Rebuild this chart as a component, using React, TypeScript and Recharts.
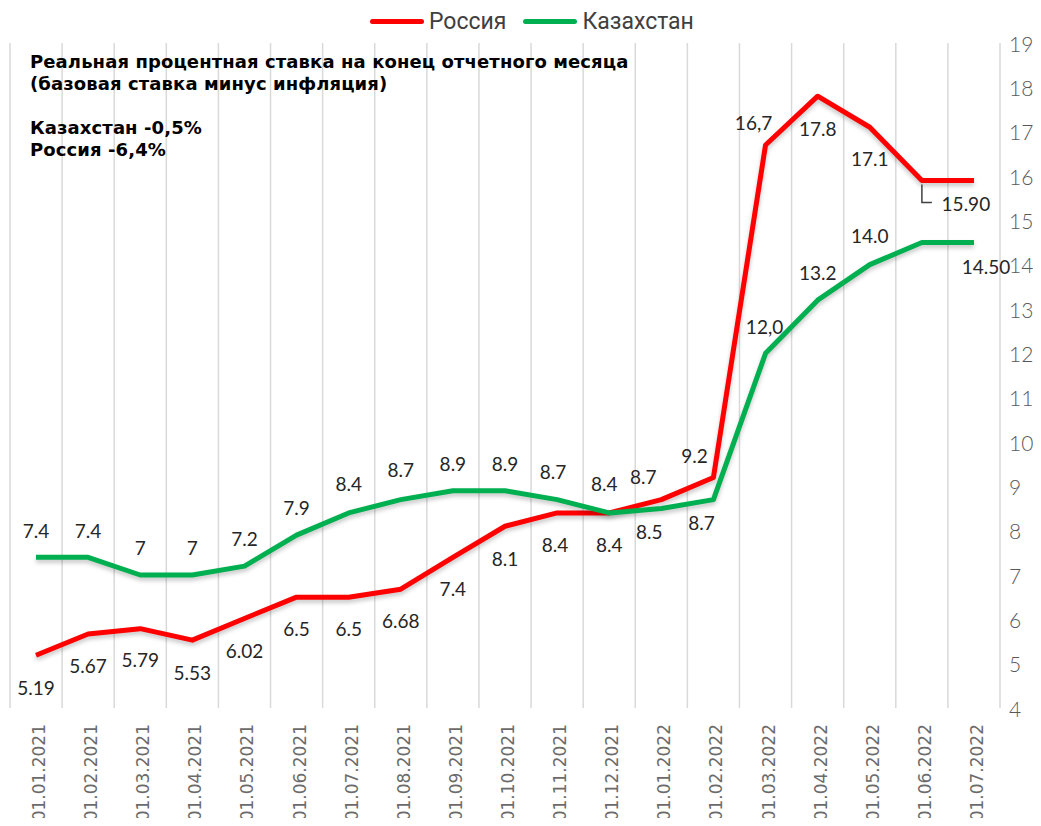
import React from "react";
import {
  LineChart,
  Line,
  XAxis,
  YAxis,
  CartesianGrid,
  Legend,
} from "recharts";

const categories = [
  "01.01.2021",
  "01.02.2021",
  "01.03.2021",
  "01.04.2021",
  "01.05.2021",
  "01.06.2021",
  "01.07.2021",
  "01.08.2021",
  "01.09.2021",
  "01.10.2021",
  "01.11.2021",
  "01.12.2021",
  "01.01.2022",
  "01.02.2022",
  "01.03.2022",
  "01.04.2022",
  "01.05.2022",
  "01.06.2022",
  "01.07.2022",
];

const russia = [5.19, 5.67, 5.79, 5.53, 6.02, 6.5, 6.5, 6.68, 7.4, 8.1, 8.4, 8.4, 8.7, 9.2, 16.7, 17.8, 17.1, 15.9, 15.9];
const kazakhstan = [7.4, 7.4, 7.0, 7.0, 7.2, 7.9, 8.4, 8.7, 8.9, 8.9, 8.7, 8.4, 8.5, 8.7, 12.0, 13.2, 14.0, 14.5, 14.5];

const russiaLabels = ["5.19", "5.67", "5.79", "5.53", "6.02", "6.5", "6.5", "6.68", "7.4", "8.1", "8.4", "8.4", "8.7", "9.2", "16,7", "17.8", "17.1", "15.90", ""];
const kazakhstanLabels = ["7.4", "7.4", "7", "7", "7.2", "7.9", "8.4", "8.7", "8.9", "8.9", "8.7", "8.4", "8.5", "8.7", "12,0", "13.2", "14.0", "", "14.50"];

const yTicks = [4, 5, 6, 7, 8, 9, 10, 11, 12, 13, 14, 15, 16, 17, 18, 19];

const noteLines = [
  "Реальная процентная ставка на конец отчетного месяца",
  "(базовая ставка минус инфляция)",
  "",
  "Казахстан -0,5%",
  "Россия -6,4%",
];

const RED = "#FF0000";
const GREEN = "#00B050";

// label placement (dx, dy of the text centre from the point)
const russiaPlace: [number, number][] = [
  [0, 32], [0, 32], [0, 31], [0, 32], [0, 32], [0, 31], [0, 31], [0, 31], [0, 31], [0, 32],
  [-2, 32], [0, 32], [-18, -23], [-19, -22], [-12, -22], [0, 32], [0, 31], [44, 23], [0, 0],
];
const kazPlace: [number, number][] = [
  [0, -27], [0, -27], [0, -28], [0, -28], [0, -28], [0, -28], [0, -29], [0, -30], [0, -27], [0, -27],
  [-4, -28], [-5, -29], [-12, 23], [-12, 23], [-1, -27], [0, -28], [0, -29], [0, 0], [12, 24],
];

const data = categories.map((date, i) => ({
  date,
  russia: russia[i],
  kazakhstan: kazakhstan[i],
}));

const makeLabel = (texts: string[], place: [number, number][], leader?: number) => (p: any) => {
  const i = p.index;
  const t = texts[i];
  if (!t) return null;
  const [dx, dy] = place[i];
  return (
    <g key={`l-${i}`}>
      {leader === i && (
        <path
          d={`M${p.x},${p.y + 4} V${p.y + 22} H${p.x + 10}`}
          stroke="#404040"
          strokeWidth={1.5}
          fill="none"
        />
      )}
      <text
        x={p.x + dx}
        y={p.y + dy}
        textAnchor="middle"
        dominantBaseline="central"
        fontFamily="Lato, sans-serif"
        fontSize={19}
        fill="#262626"
      >
        {t}
      </text>
    </g>
  );
};

const XTick = (props: any) => {
  const { x, y, payload } = props;
  return (
    <text
      x={x + 3}
      y={y + 8}
      transform={`rotate(-90, ${x + 3}, ${y + 8})`}
      textAnchor="end"
      dominantBaseline="central"
      fontFamily="'DejaVu Sans', sans-serif"
      fontSize={17}
      fill="#6b6b6b"
    >
      {payload.value}
    </text>
  );
};

const YTick = (props: any) => {
  const { x, y, payload } = props;
  return (
    <text
      x={x + 9}
      y={y}
      textAnchor="start"
      dominantBaseline="central"
      fontFamily="Lato, sans-serif"
      fontWeight={300}
      fontSize={21}
      fill="#595959"
    >
      {payload.value}
    </text>
  );
};

const LegendBox = () => (
  <div
    style={{
      height: 43,
      display: "flex",
      alignItems: "center",
      paddingLeft: 370,
      boxSizing: "border-box",
      fontFamily: "Roboto, sans-serif",
      fontSize: 23,
      color: "#404040",
    }}
  >
    {[
      { name: "Россия", color: RED },
      { name: "Казахстан", color: GREEN },
    ].map((it) => (
      <span key={it.name} style={{ display: "flex", alignItems: "center", marginRight: 17 }}>
        <span
          style={{
            display: "inline-block",
            width: 54,
            height: 5,
            borderRadius: 3,
            background: it.color,
            marginRight: 5,
          }}
        />
        {it.name}
      </span>
    ))}
  </div>
);

export default function App() {
  return (
    <div style={{ position: "relative", margin: -8, width: 1041, height: 826, background: "#fff" }}>
      <style>{`.recharts-line-curve { filter: drop-shadow(0px 3px 2px rgba(0,0,0,0.22)); }`}</style>
      <LineChart width={1041} height={826} data={data} margin={{ top: 0, right: 0, bottom: 0, left: 10 }}>
        <Legend
          verticalAlign="top"
          align="left"
          content={() => <LegendBox />}
          wrapperStyle={{ top: 0, left: 0, width: 1041, height: 43 }}
        />
        <CartesianGrid
          horizontal={false}
          stroke="#d9d9d9"
          strokeWidth={1.5}
          verticalCoordinatesGenerator={({ offset }: any) =>
            Array.from({ length: categories.length + 1 }, (_, i) => offset.left + (offset.width * i) / categories.length)
          }
        />
        <XAxis
          dataKey="date"
          interval={0}
          height={118}
          padding={{ left: 26, right: 26 }}
          axisLine={false}
          tickLine={false}
          tick={<XTick />}
        />
        <YAxis
          orientation="right"
          domain={[4, 19]}
          ticks={yTicks}
          width={41}
          axisLine={false}
          tickLine={false}
          tickSize={0}
          tickMargin={0}
          tick={<YTick />}
          interval={0}
        />
        <Line
          type="linear"
          dataKey="russia"
          name="Россия"
          stroke={RED}
          strokeWidth={5}
          strokeLinejoin="round"
          dot={false}
          isAnimationActive={false}
          label={makeLabel(russiaLabels, russiaPlace, 17)}
        />
        <Line
          type="linear"
          dataKey="kazakhstan"
          name="Казахстан"
          stroke={GREEN}
          strokeWidth={5}
          strokeLinejoin="round"
          dot={false}
          isAnimationActive={false}
          label={makeLabel(kazakhstanLabels, kazPlace)}
        />
      </LineChart>
      <div
        style={{
          position: "absolute",
          left: 30,
          top: 51,
          fontFamily: "'DejaVu Sans', sans-serif",
          fontWeight: "bold",
          fontSize: 18,
          letterSpacing: 0.1,
          lineHeight: "22px",
          color: "#000",
          pointerEvents: "none",
        }}
      >
        {noteLines.map((l, i) => (
          <div key={i} style={{ height: 22, whiteSpace: "nowrap" }}>
            {l}
          </div>
        ))}
      </div>
    </div>
  );
}
